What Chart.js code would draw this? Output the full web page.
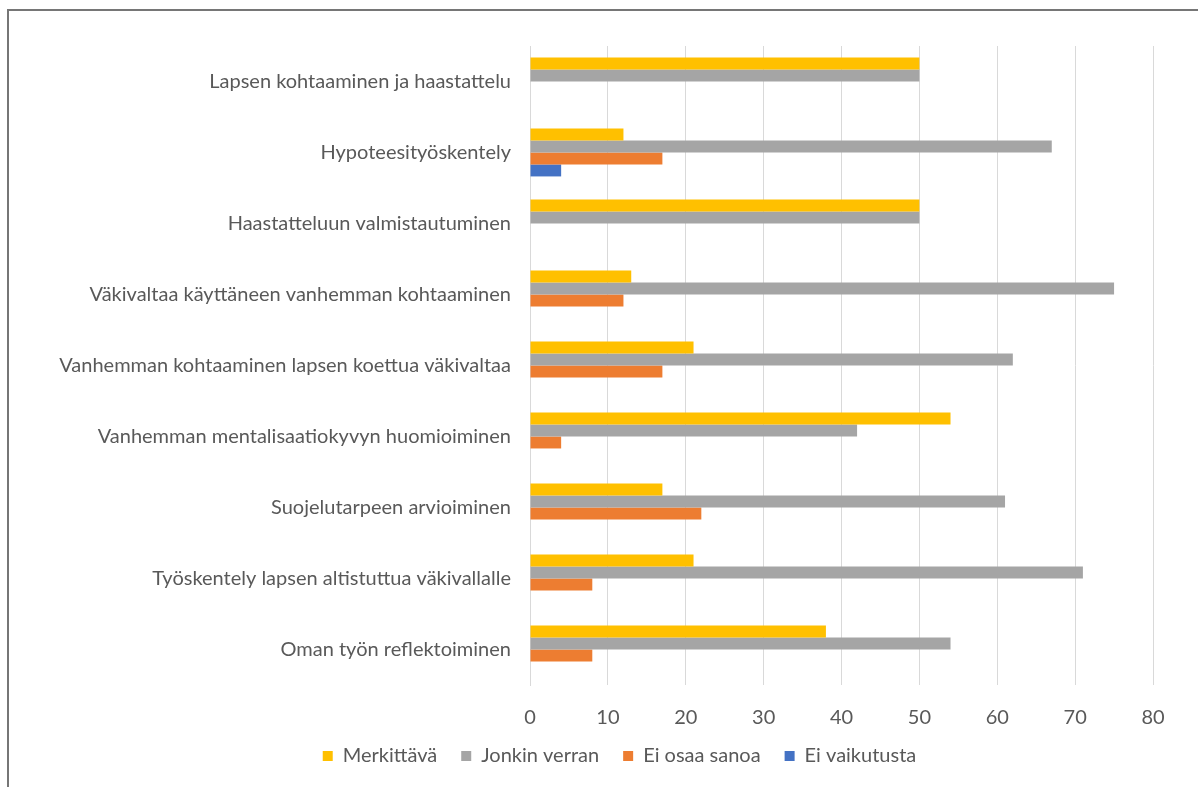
<!DOCTYPE html>
<html>
<head>
<meta charset="utf-8">
<script src="https://cdn.jsdelivr.net/npm/chart.js@4"></script>
<style>
html,body{margin:0;padding:0;background:#fff;}
#frame{position:absolute;left:7px;top:9px;width:1200px;height:800px;border-left:2px solid #767676;border-top:2px solid #767676;box-sizing:border-box;}
#wrap{position:absolute;left:0;top:0;width:1198px;height:787px;}
</style>
</head>
<body>
<div id="frame"></div>
<div id="wrap"><canvas id="c" width="1198" height="787"></canvas></div>
<script>
const categories = [
  "Lapsen kohtaaminen ja haastattelu",
  "Hypoteesityöskentely",
  "Haastatteluun valmistautuminen",
  "Väkivaltaa käyttäneen vanhemman kohtaaminen",
  "Vanhemman kohtaaminen lapsen koettua väkivaltaa",
  "Vanhemman mentalisaatiokyvyn huomioiminen",
  "Suojelutarpeen arvioiminen",
  "Työskentely lapsen altistuttua väkivallalle",
  "Oman työn reflektoiminen"
];
const merkittava     = [50, 12, 50, 13, 21, 54, 17, 21, 38];
const jonkinVerran   = [50, 67, 50, 75, 62, 42, 61, 71, 54];
const eiOsaaSanoa    = [null, 17, null, 12, 17, 4, 22, 8, 8];
const eiVaikutusta   = [null, 4, null, null, null, null, null, null, null];
const xTicks = [0, 10, 20, 30, 40, 50, 60, 70, 80];

const FONT = "Lato, 'Open Sans', sans-serif";
const TXT = '#595959';

const legendShift = {
  id: 'legendShift',
  afterLayout(chart) {
    const l = chart.legend;
    if (!l) return;
    l.left += 43; l.right += 43;
    l.top -= 7; l.bottom -= 7;
  }
};

new Chart(document.getElementById('c'), {
  type: 'bar',
  plugins: [legendShift],
  data: {
    labels: categories,
    datasets: [
      {label: 'Merkittävä', data: merkittava, backgroundColor: '#FFC000'},
      {label: 'Jonkin verran', data: jonkinVerran, backgroundColor: '#A5A5A5'},
      {label: 'Ei osaa sanoa', data: eiOsaaSanoa, backgroundColor: '#ED7D31'},
      {label: 'Ei vaikutusta', data: eiVaikutusta, backgroundColor: '#4472C4'}
    ]
  },
  options: {
    indexAxis: 'y',
    responsive: false,
    animation: false,
    devicePixelRatio: 1,
    categoryPercentage: 0.674,
    barPercentage: 1,
    layout: {padding: {left: 0, right: 45, top: 46, bottom: 4}},
    scales: {
      x: {
        min: 0, max: 80,
        afterBuildTicks: s => { s.ticks = xTicks.map(v => ({value: v})); },
        grid: {color: '#D9D9D9', lineWidth: 1, drawTicks: false},
        border: {display: false},
        ticks: {color: TXT, font: {family: FONT, size: 20}, padding: 21},
        afterFit: s => { s.height = 44; }
      },
      y: {
        grid: {display: false, drawTicks: false},
        border: {display: true, color: '#D9D9D9', width: 1},
        ticks: {color: TXT, font: {family: FONT, size: 20}, padding: 19},
        afterFit: s => { s.width = 530; }
      }
    },
    plugins: {
      legend: {
        position: 'bottom',
        labels: {
          color: TXT,
          font: {family: FONT, size: 20},
          boxWidth: 10, boxHeight: 10,
          padding: 24,
          useBorderRadius: false
        }
      },
      tooltip: {enabled: false}
    }
  }
});
</script>
</body>
</html>
